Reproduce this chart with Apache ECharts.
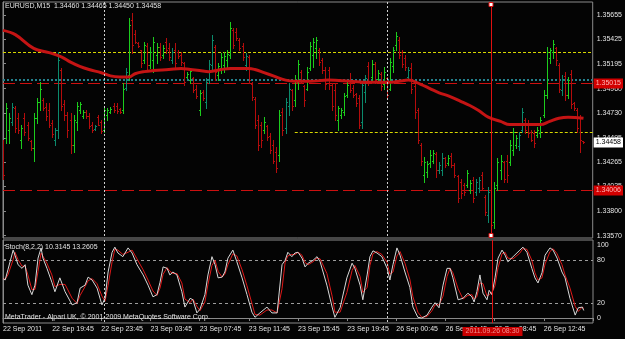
<!DOCTYPE html>
<html><head><meta charset="utf-8">
<script src="https://cdn.jsdelivr.net/npm/echarts@6/dist/echarts.min.js"></script>
<style>html,body{margin:0;padding:0;background:#040404;}#c{width:625px;height:339px;}</style>
</head><body><div id="c"></div><script>
// ---------------- data ----------------
const symbolName = 'EURUSD,M15';
const open = [
1.3446,1.3449,1.3457,1.3464,1.3478,1.3468,1.3447,1.3468,1.3462,1.3446,
1.3440,1.3468,1.3483,1.3485,1.3479,1.3476,1.3463,1.3447,1.3457,1.3514,
1.3481,1.3471,1.3466,1.3443,1.3464,1.3476,1.3470,1.3474,1.3470,1.3462,
1.3458,1.3469,1.3464,1.3457,1.3471,1.3474,1.3480,1.3480,1.3477,1.3476,
1.3497,1.3509,1.3561,1.3548,1.3539,1.3532,1.3523,1.3536,1.3518,1.3523,
1.3528,1.3535,1.3528,1.3540,1.3534,1.3523,1.3532,1.3531,1.3528,1.3520,
1.3507,1.3504,1.3506,1.3496,1.3476,1.3493,1.3483,1.3504,1.3518,1.3535,
1.3509,1.3515,1.3518,1.3523,1.3528,1.3551,1.3549,1.3542,1.3536,1.3518,
1.3526,1.3500,1.3486,1.3466,1.3462,1.3457,1.3461,1.3451,1.3443,1.3436,
1.3433,1.3474,1.3459,1.3480,1.3495,1.3485,1.3502,1.3512,1.3498,1.3496,
1.3515,1.3528,1.3534,1.3532,1.3523,1.3514,1.3514,1.3499,1.3495,1.3466,
1.3471,1.3474,1.3490,1.3504,1.3497,1.3491,1.3487,1.3464,1.3493,1.3517,
1.3507,1.3519,1.3505,1.3510,1.3500,1.3506,1.3496,1.3517,1.3537,1.3542,
1.3531,1.3525,1.3507,1.3515,1.3498,1.3476,1.3443,1.3414,1.3417,1.3426,
1.3428,1.3434,1.3419,1.3419,1.3430,1.3426,1.3432,1.3424,1.3413,1.3408,
1.3405,1.3405,1.3400,1.3410,1.3398,1.3402,1.3414,1.3394,1.3377,1.3400,
1.3370,1.3405,1.3419,1.3427,1.3428,1.3427,1.3438,1.3443,1.3442,1.3457,
1.3466,1.3462,1.3455,1.3454,1.3452,1.3454,1.3471,1.3490,1.3525,1.3531,
1.3534,1.3518,1.3495,1.3508,1.3490,1.3510,1.3482,1.3476,1.3468,1.34460];
const high = [
1.3447,1.3482,1.3473,1.3482,1.3480,1.3473,1.3462,1.3473,1.3464,1.3447,
1.3473,1.3487,1.3502,1.3487,1.3482,1.3482,1.3466,1.3459,1.3531,1.3515,
1.3485,1.3474,1.3473,1.3471,1.3483,1.3483,1.3476,1.3476,1.3473,1.3464,
1.3462,1.3471,1.3466,1.3478,1.3478,1.3479,1.3482,1.3482,1.3478,1.3501,
1.3515,1.3563,1.3567,1.3551,1.3540,1.3532,1.3540,1.3539,1.3535,1.3545,
1.3539,1.3539,1.3537,1.3544,1.3539,1.3534,1.3539,1.3532,1.3531,1.3521,
1.3512,1.3515,1.3507,1.3499,1.3495,1.3495,1.3506,1.3523,1.3547,1.3537,
1.3520,1.3530,1.3531,1.3532,1.3559,1.3553,1.3553,1.3544,1.3539,1.3530,
1.3528,1.3502,1.3488,1.3471,1.3464,1.3469,1.3462,1.3454,1.3447,1.3441,
1.3476,1.3478,1.3487,1.3501,1.3496,1.3509,1.3523,1.3514,1.3499,1.3516,
1.3540,1.3544,1.3545,1.3534,1.3525,1.3516,1.3516,1.3501,1.3501,1.3480,
1.3478,1.3492,1.3502,1.3511,1.3499,1.3492,1.3490,1.3502,1.3509,1.3521,
1.3523,1.3521,1.3514,1.3512,1.3516,1.3507,1.3525,1.3535,1.3549,1.3545,
1.3532,1.3528,1.3516,1.3520,1.3501,1.3478,1.3445,1.3431,1.3428,1.3438,
1.3438,1.3436,1.3427,1.3435,1.3431,1.3433,1.3435,1.3426,1.3414,1.3411,
1.3407,1.3419,1.3410,1.3412,1.3411,1.3412,1.3417,1.3395,1.3403,1.3407,
1.3408,1.3430,1.3433,1.3428,1.3433,1.3447,1.3459,1.3452,1.3455,1.3478,
1.3468,1.3466,1.3457,1.3457,1.3460,1.3469,1.3495,1.3535,1.3534,1.3542,
1.3535,1.3520,1.3509,1.3512,1.3507,1.3514,1.3483,1.3478,1.3471,1.34465];
const low = [
1.3411,1.3445,1.3445,1.3462,1.3455,1.3454,1.3440,1.3452,1.3447,1.3438,
1.3428,1.3463,1.3476,1.3476,1.3466,1.3460,1.3450,1.3443,1.3449,1.3476,
1.3466,1.3450,1.3435,1.3436,1.3457,1.3473,1.3468,1.3468,1.3459,1.3455,
1.3457,1.3462,1.3454,1.3455,1.3466,1.3473,1.3474,1.3473,1.3473,1.3473,
1.3495,1.3504,1.3530,1.3539,1.3535,1.3516,1.3520,1.3514,1.3515,1.3512,
1.3520,1.3523,1.3525,1.3530,1.3523,1.3520,1.3516,1.3525,1.3518,1.3499,
1.3506,1.3501,1.3493,1.3487,1.3471,1.3485,1.3478,1.3501,1.3514,1.3504,
1.3504,1.3511,1.3512,1.3516,1.3525,1.3534,1.3542,1.3532,1.3523,1.3514,
1.3501,1.3485,1.3459,1.3438,1.3441,1.3454,1.3447,1.3435,1.3426,1.3417,
1.3428,1.3452,1.3454,1.3471,1.3476,1.3480,1.3496,1.3501,1.3480,1.3495,
1.3514,1.3516,1.3525,1.3518,1.3511,1.3496,1.3496,1.3476,1.3466,1.3457,
1.3468,1.3471,1.3488,1.3493,1.3488,1.3480,1.3459,1.3459,1.3483,1.3499,
1.3504,1.3501,1.3502,1.3495,1.3496,1.3487,1.3495,1.3512,1.3532,1.3525,
1.3516,1.3514,1.3504,1.3492,1.3468,1.3445,1.3424,1.3408,1.3412,1.3422,
1.3426,1.3412,1.3416,1.3414,1.3422,1.3424,1.3422,1.3412,1.3389,1.3393,
1.3395,1.3403,1.3397,1.3389,1.3395,1.3398,1.3400,1.3377,1.3370,1.3360,
1.3364,1.3400,1.3411,1.3408,1.3408,1.3424,1.3433,1.3440,1.3438,1.3455,
1.3454,1.3450,1.3446,1.3441,1.3450,1.3450,1.3469,1.3487,1.3520,1.3525,
1.3518,1.3493,1.3490,1.3485,1.3487,1.3478,1.3476,1.3455,1.3436,1.34450];
const close = [
1.3414,1.3478,1.3468,1.3479,1.3459,1.3457,1.3459,1.3455,1.3449,1.3440,
1.3468,1.3483,1.3496,1.3478,1.3470,1.3462,1.3453,1.3457,1.3523,1.3480,
1.3471,1.3457,1.3443,1.3466,1.3480,1.3481,1.3474,1.3470,1.3461,1.3457,
1.3461,1.3462,1.3456,1.3476,1.3476,1.3477,1.3476,1.3475,1.3474,1.3496,
1.3512,1.3556,1.3537,1.3540,1.3536,1.3520,1.3537,1.3518,1.3531,1.3540,
1.3535,1.3526,1.3534,1.3532,1.3526,1.3531,1.3520,1.3527,1.3521,1.3502,
1.3510,1.3513,1.3495,1.3489,1.3492,1.3487,1.3502,1.3519,1.3542,1.3512,
1.3517,1.3526,1.3527,1.3529,1.3553,1.3537,1.3544,1.3534,1.3526,1.3527,
1.3504,1.3488,1.3462,1.3443,1.3447,1.3464,1.3450,1.3438,1.3428,1.3421,
1.3471,1.3457,1.3483,1.3496,1.3480,1.3504,1.3519,1.3504,1.3485,1.3512,
1.3536,1.3540,1.3542,1.3521,1.3514,1.3500,1.3499,1.3480,1.3471,1.3478,
1.3476,1.3489,1.3499,1.3495,1.3490,1.3482,1.3462,1.3499,1.3506,1.3502,
1.3519,1.3504,1.3511,1.3498,1.3512,1.3490,1.3521,1.3532,1.3546,1.3528,
1.3519,1.3516,1.3514,1.3496,1.3474,1.3447,1.3428,1.3427,1.3425,1.3433,
1.3435,1.3419,1.3424,1.3430,1.3424,1.3430,1.3424,1.3414,1.3393,1.3397,
1.3398,1.3416,1.3407,1.3393,1.3408,1.3410,1.3402,1.3379,1.3398,1.3367,
1.3402,1.3427,1.3428,1.3411,1.3414,1.3443,1.3455,1.3449,1.3452,1.3474,
1.3457,1.3454,1.3447,1.3445,1.3457,1.3466,1.3490,1.3531,1.3532,1.3538,
1.3523,1.3496,1.3504,1.3490,1.3504,1.3481,1.3478,1.3459,1.3447,1.34458];

// moving average (bar index, value)
const maBar = [0,4,10,15,19,22,25,28,32,35,38,41,43,46,49,54,58,61,64,67,71,74,77,80,82,85,88,92,95,100,
106,113,119,126,129,132,136,139,142,145,149,152,155,158,162,165,168,175,178,181,184,189];
const maValue = [1.3551,1.3547,1.3534,1.3530,1.3526,1.3521,1.3517,1.3514,1.3511,1.3508,
1.3507,1.3507,1.3510,1.3512,1.3513,1.3514,1.3515,1.3514,1.3513,1.3512,
1.3514,1.3515,1.3515,1.3515,1.3514,1.3511,1.3508,1.3504,1.3503,1.3503,
1.3504,1.3503,1.3502,1.3502,1.3503,1.3504,1.3500,1.3496,1.3492,1.3489,
1.3484,1.3480,1.3475,1.3469,1.3465,1.3462,1.3462,1.3462,1.3465,1.3468,1.3469,1.3468];

// stochastic (bar position, %K, %D)
const stochBar = [0,0.7,1.6,3.3,3.9,4.9,6.2,7.2,8.1,9.4,10.4,11.4,12.4,13,14.3,15.9,16.9,18.5,20.2,22.5,
24.1,25.1,26.7,27.7,29,30.6,32.2,33.2,34.2,35.5,36.4,37.4,39,40.7,42,43.6,45.6,47.2,48.8,50.1,
51.1,52.1,53.4,54.3,55.3,56.6,58.2,59.2,60.9,61.8,63.1,64.1,65.7,66.7,68,69,70,71.3,72.2,73.2,
74.8,76.1,77.8,79.4,81,82,83.6,85.9,87.5,89.2,90.8,91.8,92.7,94,95,96,97.3,98.3,99.3,100.9,
102.2,103.2,105.4,107.1,108,109.7,111.9,113.6,114.5,116.2,117.1,118.5,119.4,120.4,121.7,123.3,125,125.9,126.9,128.2,
129.2,130.8,132.4,133.4,135,136.3,138,139.6,140.6,141.9,143.2,144.5,145.5,146.4,148.1,149.7,151.3,152.6,153.3,154.2,
155.2,156.2,157.5,158.2,159.1,160.1,161.1,162.4,163.4,164.3,166,168.2,169.2,170.5,172.1,173.1,174.1,175.4,176.4,178,
179,180.3,181.9,182.9,184.5,186.2,187.2,188.5,189];
const stochK = [54,52,66,93,86,73,68,73,45,32,45,82,96,82,68,49,36,55,36,18,
21,41,45,56,52,41,18,27,63,90,97,89,84,96,89,73,59,45,29,32,
49,70,68,59,63,59,36,15,27,25,7,12,32,59,84,73,55,56,63,82,
93,77,55,32,8,1,7,15,7,7,73,79,90,84,89,90,82,70,75,79,
84,77,45,15,1,14,55,75,68,45,25,59,84,92,89,84,68,52,73,96,
86,63,42,15,1,0,4,15,21,14,45,68,68,55,25,27,34,29,22,36,
59,34,25,38,32,55,82,93,86,77,84,93,97,90,68,55,48,62,86,96,
93,82,63,55,27,4,14,15,10.3145];
const stochD = [54,53,59,80,90,80,71,71,59,39,39,64,89,89,75,59,43,46,46,27,
20,31,43,51,54,47,30,23,45,77,94,93,87,90,93,81,66,52,37,31,
41,60,69,64,61,61,48,26,21,26,16,10,22,46,72,79,64,56,60,73,
88,85,66,44,20,5,4,11,11,7,40,76,85,87,87,90,86,76,73,77,
82,81,61,30,8,8,35,65,72,57,35,42,72,88,91,87,76,60,63,85,
91,75,53,29,8,1,2,10,18,18,30,57,68,62,40,26,31,32,26,29,
48,47,30,32,35,44,69,88,90,82,81,89,95,94,79,62,52,55,74,91,
95,88,73,59,41,16,9,15,13.2605];

const timeTicks = ['22 Sep 2011','22 Sep 19:45','22 Sep 23:45','23 Sep 03:45','23 Sep 07:45','23 Sep 11:45',
'23 Sep 15:45','23 Sep 19:45','26 Sep 00:45','26 Sep 04:45','26 Sep 08:45','26 Sep 12:45'];
const priceTicks = [1.33570,1.33800,1.34035,1.34265,1.34495,1.34730,1.34960,1.35195,1.35425,1.35655];
const stochTicks = [0,20,80,100];
const stochLevels = [20,80];
const daySeparators = [33,125];
const cursorBar = 159;
const cursorTime = '2011.09.26 08:30';
const yellowLevel = 1.3531;
const tealLevel = 1.3503;
const redLevels = [1.35015,1.34006];
const trendStart = [95,1.3455];
const stochTitle = 'Stoch(8,2,2) 10.3145 13.2605';
const copyright = 'MetaTrader - Alpari UK, \u00a9 2001-2009 MetaQuotes Software Corp.';

// ---------------- styles ----------------
const FONT = 'Liberation Sans';
const SMALL = '7px "Liberation Sans"';
const TXT = '#e4e4e4';
const FRAME = '#8a8a8a';
const CURSOR = '#e01010';
const UP = '#1ccc1c', UP2 = '#0b8a6c', DOWN = '#b40c0c';
const tealBars = new Set([3,17,18,30,40,55,66,67,68,79,92,93,117,118,132,142,143,154,155,158,168,169,182]);

const bars = open.map((o,i)=>[i,o,high[i],low[i],close[i]]);
const last = bars.length-1;
const header = symbolName + '  ' + [open[last],high[last],low[last],close[last]].map(v=>v.toFixed(5)).join(' ');

function renderBar(params, api){
  const i = api.value(0);
  const o = api.value(1), c = api.value(4);
  const pH = api.coord([i, api.value(2)]);
  const pL = api.coord([i, api.value(3)]);
  const pO = api.coord([i, o]);
  const pC = api.coord([i, c]);
  const color = c >= o ? (tealBars.has(i) ? UP2 : UP) : DOWN;
  const px = Math.round(pH[0]);
  const x = px + 0.5;
  const yo = Math.round(pO[1]) + 0.5, yc = Math.round(pC[1]) + 0.5;
  const st = {stroke: color, lineWidth: 1};
  return {type:'group', children:[
    {type:'line', shape:{x1:x, y1:Math.round(pH[1]), x2:x, y2:Math.round(pL[1])+1}, style:st},
    {type:'line', shape:{x1:px-1, y1:yo, x2:px+0.5, y2:yo}, style:st},
    {type:'line', shape:{x1:px+0.5, y1:yc, x2:px+2, y2:yc}, style:st}
  ]};
}

// horizontal objects: [startBar, price, kind]  kind 0 yellow, 1 teal, 2 red, 3 bid, 4 trend (yellow from start)
const hObjects = [[0,yellowLevel,0],[0,tealLevel,1],[0,redLevels[0],2],[0,redLevels[1],2],
  [trendStart[0],trendStart[1],4],[0,close[last],3]];
const hStyle = {
  0:{stroke:'#d6d600', lineWidth:1, lineDash:[3,2]},
  1:{stroke:'#24808c', lineWidth:2, lineDash:[2,2]},
  2:{stroke:'#cc1010', lineWidth:1, lineDash:[12,5]},
  4:{stroke:'#d6d600', lineWidth:1, lineDash:[3,2]}
};
function renderLevels(params, api){
  const cs = params.coordSys;
  const kind = api.value(2), price = api.value(1);
  const p = api.coord([api.value(0), price]);
  const yRaw = Math.round(p[1]);
  const children = [];
  const xEnd = cs.x + cs.width;
  if (kind !== 3) {
    const y = kind === 1 ? yRaw - 1 : yRaw + 0.5;
    children.push({type:'line', shape:{x1: kind===4 ? p[0] : cs.x, y1:y, x2:xEnd, y2:y}, style:hStyle[kind]});
  }
  if (kind === 2 || kind === 3) {
    children.push({type:'text', x:xEnd+1, y:yRaw+0.5, z2:10, style:{text:price.toFixed(5), font:SMALL,
      fill: kind===2 ? '#ffb4b4' : '#000000', backgroundColor: kind===2 ? '#d20000' : '#ffffff',
      align:'left', verticalAlign:'middle', padding:[2,2,1,2]}});
  }
  return {type:'group', children};
}

// vertical lines: kind 0 = day separator, 1 = cursor
const vLines = daySeparators.map(b=>[b,0]).concat([[cursorBar,1]]);
function makeVRender(withSquares, withLabel, yRef){
  return function(params, api){
    const cs = params.coordSys;
    const b = api.value(0), kind = api.value(1);
    const x = Math.round(api.coord([b, yRef])[0]) + 0.5;
    const isCursor = kind === 1;
    const children = [{type:'line', shape:{x1:x, y1:cs.y, x2:x, y2:cs.y+cs.height},
      style:{stroke: isCursor ? CURSOR : '#cfcfcf', lineWidth:1, lineDash: isCursor ? null : [2,2]}}];
    if (isCursor && withSquares) {
      children.push({type:'rect', shape:{x:x-2.5, y:cs.y+0.5, width:4, height:4}, style:{fill:'#ffffff', stroke:CURSOR, lineWidth:1}});
      children.push({type:'rect', shape:{x:x-2.5, y:cs.y+cs.height-4.5, width:4, height:4}, style:{fill:'#ffffff', stroke:CURSOR, lineWidth:1}});
    }
    if (isCursor && withLabel) {
      children.push({type:'text', x:x, y:cs.y+cs.height+4, style:{text:cursorTime, fill:'#f29090',
        font:SMALL, align:'center', verticalAlign:'top', backgroundColor:'#c80000', padding:[1,3,1,3]}});
    }
    return {type:'group', children};
  };
}
function renderStochLevels(params, api){
  const cs = params.coordSys;
  const y = Math.round(api.coord([0, api.value(0)])[1]) + 0.5;
  return {type:'line', shape:{x1:cs.x, y1:y, x2:cs.x+cs.width, y2:y}, style:{stroke:'#9c9c9c', lineWidth:1, lineDash:[3,3]}};
}

const chart = echarts.init(document.getElementById('c'), null, {renderer:'canvas'});
chart.setOption({
  animation:false,
  backgroundColor:'#040404',
  textStyle:{fontFamily:FONT},
  grid:[
    {left:3, right:32, top:2, height:236, show:true, borderColor:FRAME, borderWidth:1},
    {left:3, right:32, top:240, height:83, show:true, borderColor:FRAME, borderWidth:1}
  ],
  xAxis:[
    {gridIndex:0, type:'value', min:0, max:192, interval:16,
     axisLine:{show:false}, axisTick:{show:false}, axisLabel:{show:false}, splitLine:{show:false}},
    {gridIndex:1, type:'value', min:0, max:192, interval:16,
     axisLine:{show:true, lineStyle:{color:FRAME}},
     axisTick:{show:true, length:3, lineStyle:{color:FRAME}},
     axisLabel:{show:true, align:'left', margin:3, color:TXT, fontSize:7, fontFamily:FONT,
       formatter:v=>timeTicks[Math.round(v/16)] || ''},
     splitLine:{show:false}}
  ],
  yAxis:[
    {gridIndex:0, type:'value', position:'right', min:1.33548, max:1.35778,
     axisLine:{show:true, lineStyle:{color:FRAME}},
     axisTick:{show:true, length:3, customValues:priceTicks, lineStyle:{color:FRAME}},
     axisLabel:{show:true, customValues:priceTicks, margin:4, color:TXT, fontSize:7, fontFamily:FONT,
       formatter:v=>v.toFixed(5)},
     splitLine:{show:false}},
    {gridIndex:1, type:'value', position:'right', min:-6.8, max:106.8,
     axisLine:{show:true, lineStyle:{color:FRAME}},
     axisTick:{show:true, length:3, customValues:stochTicks, lineStyle:{color:FRAME}},
     axisLabel:{show:true, customValues:stochTicks, margin:4, color:TXT, fontSize:7, fontFamily:FONT},
     splitLine:{show:false}}
  ],
  graphic:[
    {type:'text', left:5, top:3, z:100, style:{text:header, fill:TXT, font:SMALL}},
    {type:'text', left:5, top:244, z:100, style:{text:stochTitle, fill:TXT, font:SMALL}},
    {type:'text', left:5, top:314, z:100, style:{text:copyright, fill:TXT, font:SMALL}}
  ],
  series:[
    {type:'custom', name:'levels', xAxisIndex:0, yAxisIndex:0, data:hObjects, renderItem:renderLevels,
     encode:{x:0, y:1}, clip:false, z:1, silent:true},
    {type:'custom', name:'EURUSD', xAxisIndex:0, yAxisIndex:0, data:bars, renderItem:renderBar,
     encode:{x:0, y:[1,2,3,4]}, clip:true, z:2},
    {type:'line', name:'MA', xAxisIndex:0, yAxisIndex:0, data:maBar.map((b,k)=>[b,maValue[k]]),
     showSymbol:false, symbol:'none', smooth:0.4, lineStyle:{color:'#c41414', width:3}, z:3},
    {type:'custom', name:'vlinesMain', xAxisIndex:0, yAxisIndex:0, data:vLines,
     renderItem:makeVRender(true,false,1.34), clip:false, z:5, silent:true},
    {type:'custom', name:'stochLevels', xAxisIndex:1, yAxisIndex:1, data:stochLevels.map(v=>[v]),
     renderItem:renderStochLevels, encode:{y:0}, clip:false, z:1, silent:true},
    {type:'line', name:'Signal', xAxisIndex:1, yAxisIndex:1, data:stochBar.map((b,k)=>[b,stochD[k]]),
     showSymbol:false, symbol:'none', lineStyle:{color:'#e01818', width:1}, z:3},
    {type:'line', name:'Main', xAxisIndex:1, yAxisIndex:1, data:stochBar.map((b,k)=>[b,stochK[k]]),
     showSymbol:false, symbol:'none', lineStyle:{color:'#d8d8d8', width:1}, z:4},
    {type:'custom', name:'vlinesStoch', xAxisIndex:1, yAxisIndex:1, data:vLines,
     renderItem:makeVRender(false,true,50), clip:false, z:5, silent:true}
  ]
});
</script></body></html>
